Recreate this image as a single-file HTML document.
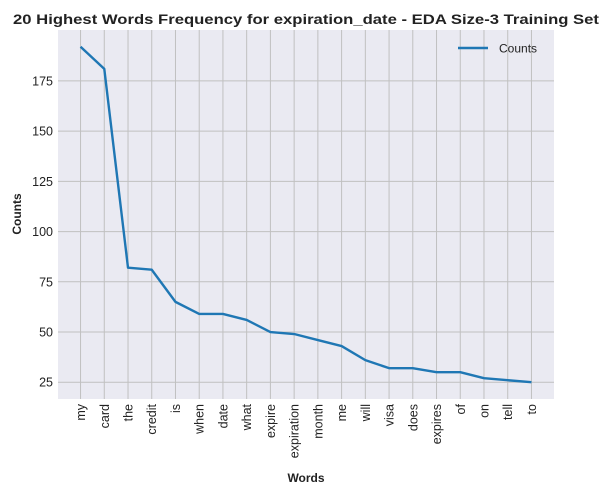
<!DOCTYPE html>
<html><head><meta charset="utf-8"><style>
body{margin:0;background:#fff;font-family:"Liberation Sans",Arial,sans-serif;}
svg text{font-family:"Liberation Sans",Arial,sans-serif;}
</style></head><body>
<svg id="chart" width="608" height="494" xmlns="http://www.w3.org/2000/svg">
<rect x="0" y="0" width="608" height="494" fill="#fff"/>
<rect x="58" y="30" width="496" height="369" fill="#eaeaf2"/>
<g id="grid"></g>
<g id="yticks"></g>
<g id="xticks"></g>
<path id="line" fill="none" stroke="#1f77b4" stroke-width="2.4" stroke-linejoin="round"/>
<text x="306" y="24" text-anchor="middle" font-size="14" font-weight="bold" fill="#222" textLength="586" lengthAdjust="spacingAndGlyphs">20 Highest Words Frequency for expiration_date - EDA Size-3 Training Set</text>
<text transform="translate(21,214) rotate(-90)" text-anchor="middle" font-size="12" font-weight="bold" fill="#222">Counts</text>
<text x="306" y="482" text-anchor="middle" font-size="12" font-weight="bold" fill="#222">Words</text>
<g>
<line x1="458" y1="48" x2="488" y2="48" stroke="#1f77b4" stroke-width="2.4"/>
<text x="499" y="52.5" font-size="12" fill="#222">Counts</text>
</g>
</svg>
<script>
const categories=["my","card","the","credit","is","when","date","what","expire","expiration","month","me","will","visa","does","expires","of","on","tell","to"];
const counts=[192,181,82,81,65,59,59,56,50,49,46,43,36,32,32,30,30,27,26,25];
const yTicks=[25,50,75,100,125,150,175];
const NS="http://www.w3.org/2000/svg";
const L=58,R=554,T=30,B=399;
const n=categories.length;
const xmin=-0.05*(n-1),xmax=(n-1)*1.05;
const vmin=Math.min(...counts),vmax=Math.max(...counts),pad=(vmax-vmin)*0.05;
const ymin=vmin-pad,ymax=vmax+pad;
const xs=i=>L+(i-xmin)/(xmax-xmin)*(R-L);
const ys=v=>B-(v-ymin)/(ymax-ymin)*(B-T);
const grid=document.getElementById('grid'),yt=document.getElementById('yticks'),xt=document.getElementById('xticks');
function mk(tag,attrs){const e=document.createElementNS(NS,tag);for(const k in attrs)e.setAttribute(k,attrs[k]);return e;}
yTicks.forEach(v=>{
  const g=mk('line',{x1:L,x2:R,y1:ys(v),y2:ys(v),stroke:'#c0c0c0','stroke-width':1});
  
  
  grid.appendChild(g);
  const t=mk('text',{x:L-5,y:ys(v)+4.5,'text-anchor':'end','font-size':12.5,fill:'#222'});
  t.textContent=v;
  
  
  yt.appendChild(t);
});
categories.forEach((c,i)=>{
  const x=xs(i);
  const g=mk('line',{x1:x,x2:x,y1:T,y2:B,stroke:'#c0c0c0','stroke-width':1});
  
  
  grid.appendChild(g);
  const t=mk('text',{transform:`translate(${x+4.5},${B+5}) rotate(-90)`,'text-anchor':'end','font-size':12.5,fill:'#222'});
  t.textContent=c;
  
  
  xt.appendChild(t);
});
document.getElementById('line').setAttribute('d',counts.map((v,i)=>(i?'L':'M')+xs(i).toFixed(2)+','+ys(v).toFixed(2)).join(' '));
</script>
</body></html>
